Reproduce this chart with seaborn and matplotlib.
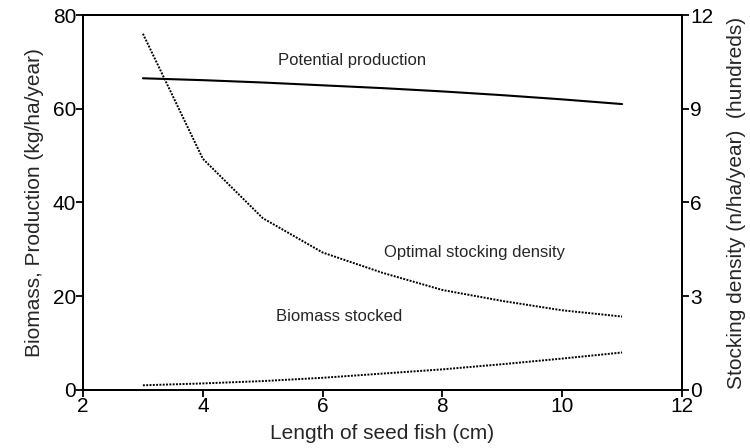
import matplotlib
matplotlib.use("Agg")
import matplotlib.pyplot as plt
import seaborn as sns
import pandas as pd

# Data
length_cm = [3, 4, 5, 6, 7, 8, 9, 10, 11]
potential_production = [66.5, 66.1, 65.6, 65.0, 64.4, 63.7, 62.9, 62.0, 61.0]
biomass_stocked = [1.0, 1.4, 1.9, 2.6, 3.5, 4.4, 5.5, 6.7, 8.0]
optimal_density = [11.4, 7.4, 5.5, 4.4, 3.75, 3.2, 2.85, 2.55, 2.35]  # hundreds n/ha/year

x_ticks = [2, 4, 6, 8, 10, 12]
left_ticks = [0, 20, 40, 60, 80]
right_ticks = [0, 3, 6, 9, 12]

sns.set_theme(style="ticks")
plt.rcParams['font.family'] = ['Liberation Sans', 'DejaVu Sans']

df = pd.DataFrame({"x": length_cm, "prod": potential_production,
                   "bio": biomass_stocked, "dens": optimal_density})

fig = plt.figure(figsize=(7.5, 4.48), dpi=100)
ax = fig.add_axes([0.1107, 0.1295, 0.7986, 0.837])

sns.lineplot(data=df, x="x", y="prod", ax=ax, color="black", lw=1.5)
sns.lineplot(data=df, x="x", y="bio", ax=ax, color="black", lw=1.4,
             linestyle=(0, (1, 0.7)))
ax.set_xlim(2, 12)
ax.set_ylim(0, 80)
ax.set_xticks(x_ticks)
ax.set_yticks(left_ticks)
ax.set_xlabel("Length of seed fish (cm)", fontsize=15, labelpad=6)
ax.set_ylabel("Biomass, Production (kg/ha/year)", fontsize=15, labelpad=6)
ax.tick_params(axis="both", labelsize=15, width=1.3, length=5, pad=0, colors="black")

ax2 = ax.twinx()
sns.lineplot(data=df, x="x", y="dens", ax=ax2, color="black", lw=1.4,
             linestyle=(0, (1, 0.7)))
ax2.set_ylim(0, 12)
ax2.set_xlim(2, 12)
ax2.set_yticks(right_ticks)
ax2.set_ylabel("Stocking density (n/ha/year)  (hundreds)", fontsize=15, labelpad=10)
ax2.tick_params(axis="y", labelsize=15, width=1.3, length=5, pad=1, colors="black")

for a in (ax, ax2):
    for s in a.spines.values():
        s.set_visible(True)
        s.set_linewidth(1.4)
        s.set_color("black")

ax.text(6.49, 70.4, "Potential production", fontsize=12, ha="center", va="center")
ax.text(8.54, 29.4, "Optimal stocking density", fontsize=12, ha="center", va="center")
ax.text(6.27, 15.7, "Biomass stocked", fontsize=12, ha="center", va="center")

fig.savefig("out.png", dpi=100)
